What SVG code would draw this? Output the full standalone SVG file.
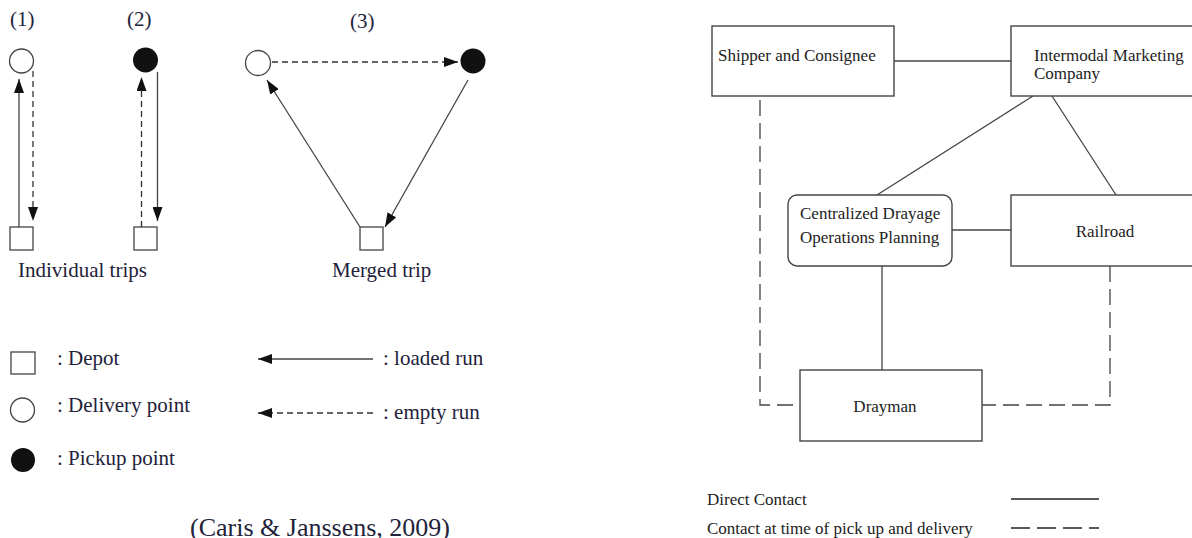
<svg xmlns="http://www.w3.org/2000/svg" width="1192" height="538" viewBox="0 0 1192 538">
<style>
.t{font-family:"Liberation Serif","Times New Roman",serif;font-size:21px;fill:#22223a}
.r{font-family:"Liberation Serif","Times New Roman",serif;font-size:17px;fill:#222}
.ln{stroke:#444;stroke-width:1.3;fill:none}
.dl{stroke:#333;stroke-width:1.3;fill:none;stroke-dasharray:6 4}
.box{fill:#fff;stroke:#444;stroke-width:1.4}
.dep{fill:#fff;stroke:#444;stroke-width:1.3}
.dc{stroke:#444;stroke-width:1.3;fill:none;stroke-dasharray:16 7}
</style>
<defs>
<marker id="ah" markerUnits="userSpaceOnUse" markerWidth="14" markerHeight="10" viewBox="0 0 14 10" refX="14" refY="5" orient="auto">
<path d="M0,0 L14,5 L0,10 Z" fill="#111"/>
</marker>
</defs>
<rect width="1192" height="538" fill="#fff"/>

<g id="left-labels">
<text class="t" x="10" y="26">(1)</text>
<text class="t" x="127" y="26">(2)</text>
<text class="t" x="350" y="28">(3)</text>
<text class="t" x="18" y="277">Individual trips</text>
<text class="t" x="332" y="277">Merged trip</text>
</g>

<g id="trip1">
<circle class="dep" cx="21.5" cy="61" r="12"/>
<rect class="dep" x="10" y="227" width="23" height="23"/>
</g>
<g id="trip2">
<circle cx="145.5" cy="60" r="12.5" fill="#111"/>
<rect class="dep" x="134" y="227" width="23" height="23"/>
</g>
<g id="trip3">
<circle class="dep" cx="258" cy="63" r="12.5"/>
<circle cx="473" cy="61" r="12.5" fill="#111"/>
<rect class="dep" x="360" y="227" width="23" height="23"/>
</g>

<g id="trip-connectors">
<line class="ln" x1="19" y1="227" x2="19" y2="79" marker-end="url(#ah)"/>
<line class="dl" x1="33" y1="71" x2="33" y2="221" marker-end="url(#ah)"/>
<line class="dl" x1="141.5" y1="227" x2="141.5" y2="77" marker-end="url(#ah)"/>
<line class="ln" x1="157.5" y1="72" x2="157.5" y2="221" marker-end="url(#ah)"/>
<line class="dl" x1="272" y1="62" x2="458" y2="62" marker-end="url(#ah)"/>
<line class="ln" x1="360" y1="227" x2="267" y2="80" marker-end="url(#ah)"/>
<line class="ln" x1="468" y1="80" x2="385" y2="227" marker-end="url(#ah)"/>
</g>

<g id="left-legend">
<rect class="dep" x="11" y="352" width="24" height="22"/>
<text class="t" x="57" y="365">: Depot</text>
<circle class="dep" cx="22.5" cy="410" r="12"/>
<text class="t" x="57" y="412">: Delivery point</text>
<circle cx="23" cy="460" r="12" fill="#111"/>
<text class="t" x="57" y="465">: Pickup point</text>
<line class="ln" x1="373" y1="359" x2="258" y2="359" marker-end="url(#ah)"/>
<text class="t" x="383" y="365">: loaded run</text>
<line class="dl" x1="373" y1="413" x2="258" y2="413" marker-end="url(#ah)"/>
<text class="t" x="383" y="419">: empty run</text>
<text class="t" x="190" y="536" style="font-size:26px">(Caris &amp; Janssens, 2009)</text>
</g>

<g id="connectors">
<line class="ln" x1="894" y1="61" x2="1011" y2="61"/>
<line class="ln" x1="1033" y1="96" x2="877" y2="195"/>
<line class="ln" x1="1052" y1="96" x2="1116" y2="195"/>
<line class="ln" x1="952" y1="230" x2="1011" y2="230"/>
<line class="ln" x1="882" y1="266" x2="882" y2="370"/>
<polyline class="dc" points="760,100 760,405 800,405"/>
<polyline class="dc" points="1110,266 1110,405 982,405"/>
</g>

<g id="shipper">
<rect class="box" x="712" y="26" width="182" height="70"/>
<text class="r" x="718" y="61">Shipper and Consignee</text>
</g>
<g id="imc">
<rect class="box" x="1011" y="26" width="185" height="70"/>
<text class="r" x="1034" y="61">Intermodal Marketing</text>
<text class="r" x="1034" y="79">Company</text>
</g>
<g id="cdop">
<rect class="box" x="788" y="195" width="164" height="71" rx="9"/>
<text class="r" x="800" y="219">Centralized Drayage</text>
<text class="r" x="800" y="243">Operations Planning</text>
</g>
<g id="railroad">
<rect class="box" x="1011" y="195" width="185" height="71"/>
<text class="r" x="1105" y="237" text-anchor="middle">Railroad</text>
</g>
<g id="drayman">
<rect class="box" x="800" y="370" width="182" height="71"/>
<text class="r" x="885" y="412" text-anchor="middle">Drayman</text>
</g>

<g id="right-legend">
<text class="r" x="707" y="505">Direct Contact</text>
<line x1="1011" y1="499" x2="1099" y2="499" stroke="#222" stroke-width="1.3"/>
<text class="r" x="707" y="534">Contact at time of pick up and delivery</text>
<line x1="1011" y1="528" x2="1099" y2="528" stroke="#222" stroke-width="1.3" stroke-dasharray="19 7"/>
</g>
</svg>
